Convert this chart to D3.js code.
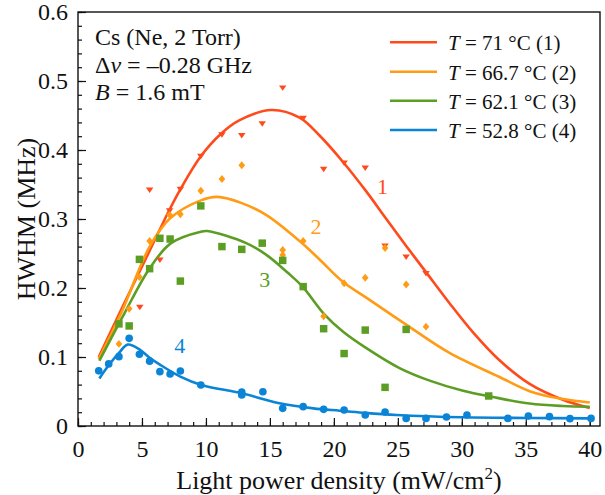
<!DOCTYPE html>
<html>
<head>
<meta charset="utf-8">
<script src="https://cdn.jsdelivr.net/npm/d3@7"></script>
<style>
  html, body { margin: 0; padding: 0; background: #fff; }
</style>
</head>
<body>
<div id="chart"></div>
<script>
// measured points, [power density mW/cm2, HWHM MHz]
const pointsT71 = [
  [4.83, 0.173], [5.6, 0.343], [6.4, 0.2415], [7.16, 0.313], [8.0, 0.344],
  [9.6, 0.392], [11.25, 0.423], [12.8, 0.422], [14.4, 0.439], [16.0, 0.491],
  [17.6, 0.447], [19.2, 0.373], [20.8, 0.382], [22.45, 0.375], [24.0, 0.262],
  [25.65, 0.246], [27.2, 0.222]
];
const pointsT667 = [
  [3.2, 0.119], [4.0, 0.170], [4.8, 0.216], [5.6, 0.268], [7.16, 0.306],
  [8.0, 0.307], [9.6, 0.341], [11.25, 0.358], [12.8, 0.378], [16.0, 0.255],
  [16.0, 0.248], [17.6, 0.268], [19.2, 0.159], [20.8, 0.207], [22.45, 0.215],
  [24.0, 0.258], [25.65, 0.205], [27.2, 0.144]
];
const pointsT621 = [
  [3.2, 0.148], [4.0, 0.145], [4.8, 0.2415], [5.6, 0.228], [6.4, 0.272],
  [7.2, 0.271], [8.0, 0.21], [9.6, 0.319], [11.25, 0.26], [12.8, 0.256],
  [14.4, 0.265], [16.0, 0.24], [17.6, 0.202], [19.2, 0.141], [20.8, 0.105],
  [22.45, 0.139], [24.0, 0.056], [25.65, 0.14], [32.1, 0.0435]
];
const pointsT528 = [
  [1.62, 0.080], [2.4, 0.090], [3.2, 0.1005], [4.0, 0.127], [4.8, 0.104],
  [5.6, 0.094], [6.4, 0.0787], [7.2, 0.0754], [8.0, 0.0797], [9.6, 0.0594],
  [12.8, 0.049], [12.8, 0.045], [14.45, 0.0497], [16.0, 0.0256], [17.6, 0.028],
  [19.2, 0.0242], [20.8, 0.0232], [22.45, 0.016], [24.0, 0.0203], [25.65, 0.011],
  [27.2, 0.011], [28.8, 0.013], [30.4, 0.016], [33.6, 0.011], [35.2, 0.0145],
  [36.85, 0.0135], [38.45, 0.0106], [40.1, 0.011]
];

// fitted curves
const fitT71 = [
  [1.62, 0.100], [3.36, 0.168], [5.6, 0.254], [7.14, 0.313], [8.0, 0.343],
  [9.6, 0.391], [11.2, 0.424], [12.6, 0.443], [15.1, 0.458], [17.32, 0.447],
  [18.88, 0.421], [20.7, 0.383], [22.53, 0.34], [24.1, 0.30], [25.65, 0.261],
  [27.2, 0.223], [29.04, 0.178], [30.86, 0.136], [32.9, 0.096], [35.3, 0.061],
  [37.9, 0.038], [40.0, 0.026]
];
const fitT667 = [
  [1.62, 0.097], [3.36, 0.163], [5.6, 0.26], [7.2, 0.301], [9.6, 0.327],
  [10.9, 0.332], [12.8, 0.323], [14.7, 0.306], [17.32, 0.268], [18.9, 0.241],
  [20.7, 0.209], [22.53, 0.186], [25.65, 0.147], [29.04, 0.106], [32.9, 0.0714],
  [35.3, 0.0505], [37.9, 0.039], [40.0, 0.034]
];
const fitT621 = [
  [1.67, 0.0946], [3.62, 0.163], [5.58, 0.228], [7.27, 0.265], [9.6, 0.2816],
  [10.1, 0.2826], [13.15, 0.265], [14.8, 0.247], [16.4, 0.222], [17.6, 0.201],
  [19.2, 0.163], [20.7, 0.137], [22.45, 0.114], [25.13, 0.084], [27.6, 0.065],
  [30.1, 0.051], [32.3, 0.0425], [35.3, 0.0325], [37.9, 0.029], [40.0, 0.028]
];
const fitT528 = [
  [1.67, 0.069], [2.4, 0.088], [3.2, 0.106], [3.9, 0.118], [4.8, 0.111],
  [5.6, 0.099], [6.4, 0.089], [8.0, 0.0715], [9.64, 0.0594], [12.8, 0.0474],
  [15.75, 0.033], [18.4, 0.0256], [20.45, 0.0222], [22.27, 0.0193], [24.9, 0.016],
  [30.1, 0.0126], [35.3, 0.0116], [40.0, 0.0111]
];

const seriesNames = ["71", "66.7", "62.1", "52.8"];
const seriesColors = ["#ff4a1c", "#ff9b14", "#5c9e24", "#0a84d6"];
const curveLabels = ["1", "2", "3", "4"];
const curveLabelPos = [[23.8, 0.347], [18.6, 0.289], [14.6, 0.212], [7.95, 0.117]];
const xTicks = [0, 5, 10, 15, 20, 25, 30, 35, 40];
const yTicks = [0, 0.1, 0.2, 0.3, 0.4, 0.5, 0.6];

const FONT = "'Liberation Serif', 'Times New Roman', Times, serif";
const W = 605, H = 495;
const margin = {top: 12, right: 5, bottom: 69, left: 78};

const svg = d3.select("#chart").append("svg")
  .attr("width", W).attr("height", H)
  .style("font-family", FONT);

const x = d3.scaleLinear().domain([0, 40.8]).range([margin.left, W - margin.right]);
const y = d3.scaleLinear().domain([0, 0.6]).range([H - margin.bottom, margin.top]);

// axes, ticks pointing inward
const xMinor = d3.range(0, 41, 1);
const yMinor = d3.range(0, 0.601, 0.02);

function styleAxis(g) {
  g.attr("font-family", FONT);
  g.select(".domain").remove();
  g.selectAll(".tick line").attr("stroke", "#111").attr("stroke-width", 1.2);
  g.selectAll(".tick text").attr("fill", "#111").style("font-size", "24px");
}

svg.append("g")
  .attr("transform", `translate(0,${y(0)})`)
  .call(d3.axisBottom(x).tickValues(xMinor).tickSizeInner(-4).tickSizeOuter(0).tickFormat(""))
  .call(styleAxis);
svg.append("g")
  .attr("transform", `translate(0,${y(0)})`)
  .call(d3.axisBottom(x).tickValues(xTicks).tickSizeInner(-8).tickSizeOuter(0).tickPadding(14))
  .call(styleAxis);

svg.append("g")
  .attr("transform", `translate(${x(0)},0)`)
  .call(d3.axisLeft(y).tickValues(yMinor).tickSizeInner(-4).tickSizeOuter(0).tickFormat(""))
  .call(styleAxis);
svg.append("g")
  .attr("transform", `translate(${x(0)},0)`)
  .call(d3.axisLeft(y).tickValues(yTicks).tickSizeInner(-8).tickSizeOuter(0).tickPadding(10)
    .tickFormat(d => d === 0 ? "0" : d3.format(".1f")(d)))
  .call(styleAxis);

// frame
svg.append("rect")
  .attr("x", x(0)).attr("y", y(0.6))
  .attr("width", x.range()[1] - x(0)).attr("height", y(0) - y(0.6))
  .attr("fill", "none").attr("stroke", "#111").attr("stroke-width", 1.4);

// axis titles
const xt = svg.append("text")
  .attr("x", (x.range()[0] + x.range()[1]) / 2).attr("y", 489)
  .attr("text-anchor", "middle")
  .attr("fill", "#111")
  .style("font-size", "26px");
xt.append("tspan").text("Light power density (mW/cm");
xt.append("tspan").attr("dy", -10).style("font-size", "17px").text("2");
xt.append("tspan").attr("dy", 10).text(")");

svg.append("text")
  .attr("transform", `translate(35,${(y(0) + y(0.6)) / 2}) rotate(-90)`)
  .attr("text-anchor", "middle")
  .attr("fill", "#111")
  .style("font-size", "26px")
  .text("HWHM (MHz)");

// fitted lines
const line = d3.line()
  .x(d => x(d[0])).y(d => y(d[1]))
  .curve(d3.curveCatmullRom.alpha(0.5));

const fits = [fitT71, fitT667, fitT621, fitT528];
fits.forEach((f, i) => {
  svg.append("path")
    .datum(f)
    .attr("fill", "none")
    .attr("stroke", seriesColors[i])
    .attr("stroke-width", 2.6)
    .attr("d", line);
});

// markers
const markerSets = [
  {data: pointsT71, type: d3.symbolTriangle, size: 24, rot: 180, sy: 0.85},
  {data: pointsT667, type: d3.symbolSquare, size: 22, rot: 45, sy: 1.2},
  {data: pointsT621, type: d3.symbolSquare, size: 56, rot: 0, sy: 1},
  {data: pointsT528, type: d3.symbolCircle, size: 46, rot: 0, sy: 1}
];
markerSets.forEach((m, i) => {
  svg.append("g").selectAll("path")
    .data(m.data).join("path")
    .attr("d", d3.symbol(m.type, m.size))
    .attr("transform", d => `translate(${x(d[0])},${y(d[1])}) scale(1,${m.sy}) rotate(${m.rot})`)
    .attr("fill", seriesColors[i]);
});

// curve numbers
svg.append("g").selectAll("text")
  .data(curveLabels).join("text")
  .attr("x", (d, i) => x(curveLabelPos[i][0]))
  .attr("y", (d, i) => y(curveLabelPos[i][1]))
  .attr("dy", "0.35em")
  .attr("text-anchor", "middle")
  .style("font-size", "22px")
  .attr("fill", (d, i) => seriesColors[i])
  .text(d => d);

// info text, top left
const info = svg.append("g").attr("fill", "#111").style("font-size", "24px");
info.append("text").attr("x", 95).attr("y", 45).text("Cs (Ne, 2 Torr)");
const l2 = info.append("text").attr("x", 95).attr("y", 72.7);
l2.append("tspan").text("Δ");
l2.append("tspan").style("font-style", "italic").text("ν");
l2.append("tspan").text(" = –0.28 GHz");
const l3 = info.append("text").attr("x", 95).attr("y", 100);
l3.append("tspan").style("font-style", "italic").text("B");
l3.append("tspan").text(" = 1.6 mT");

// legend
const legendY = [42.3, 71.7, 100.7, 130];
const legend = svg.append("g").attr("fill", "#111").style("font-size", "21px");
seriesNames.forEach((name, i) => {
  legend.append("line")
    .attr("x1", 390).attr("x2", 437)
    .attr("y1", legendY[i]).attr("y2", legendY[i])
    .attr("stroke", seriesColors[i]).attr("stroke-width", 2.6);
  const t = legend.append("text")
    .attr("x", 448).attr("y", legendY[i] + 8);
  t.append("tspan").style("font-style", "italic").text("T");
  t.append("tspan").text(` = ${name} °C (${i + 1})`);
});
</script>
</body>
</html>
